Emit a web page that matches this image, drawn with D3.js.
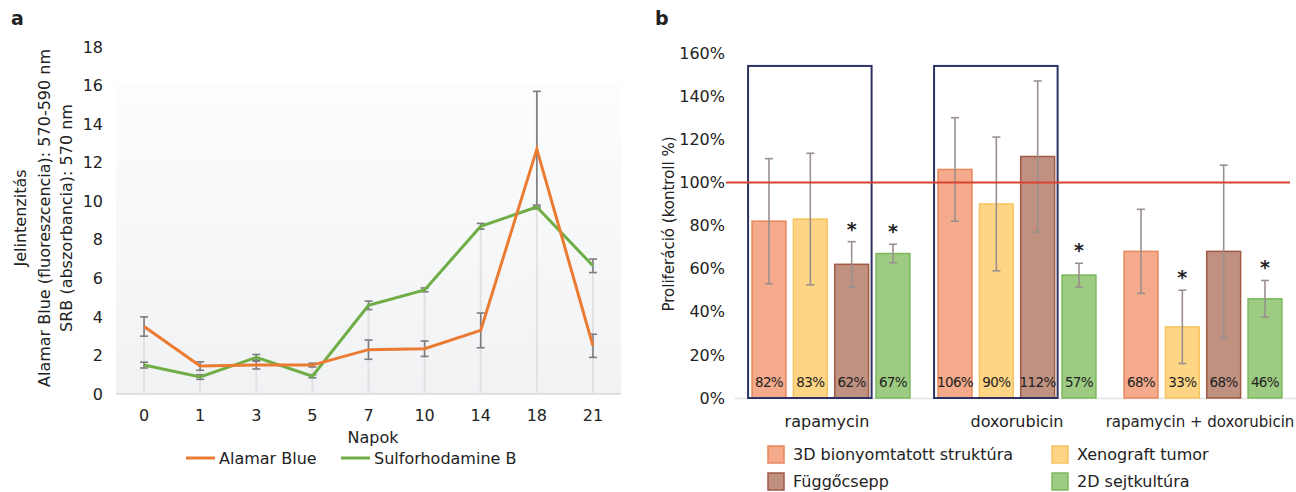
<!DOCTYPE html>
<html><head><meta charset="utf-8">
<script src="https://cdn.jsdelivr.net/npm/d3@7"></script>
<style>body{margin:0;background:#fff}text{font-family:"DejaVu Sans",sans-serif;fill:#222}</style>
</head><body><svg id="c" width="1296" height="492"></svg>
<script>
// ---- Panel a data ----
const days = ["0","1","3","5","7","10","14","18","21"];
const alamar = [3.5,1.45,1.5,1.5,2.3,2.35,3.3,12.7,2.5];
const alamarErr = [0.5,0.22,0.2,0.1,0.5,0.4,0.9,3.0,0.6];
const srb = [1.5,0.88,1.9,0.92,4.6,5.4,8.7,9.7,6.65];
const srbErr = [0.15,0.12,0.15,0.08,0.22,0.1,0.15,0.1,0.35];
const yTicksA = [0,2,4,6,8,10,12,14,16,18];
// ---- Panel b data ----
const treatments = ["rapamycin","doxorubicin","rapamycin + doxorubicin"];
const models = ["3D bionyomtatott struktúra","Xenograft tumor","Függőcsepp","2D sejtkultúra"];
const prolif = [[82,83,62,67],[106,90,112,57],[68,33,68,46]];
const prolifErr = [[29,30.5,10.5,4.3],[24,31,35,5.5],[19.5,17,40,8.5]];
const signif = [[false,false,true,true],[false,false,false,true],[false,true,false,true]];
const boxedGroups = ["rapamycin","doxorubicin"];
const yTicksB = [0,20,40,60,80,100,120,140,160];

const svg = d3.select("#c");

// ================= Panel a =================
const A = {l:116, r:621, t:47, b:394};
const xa = d3.scaleBand().domain(days).range([A.l,A.r]);
const ya = d3.scaleLinear().domain([0,18]).range([A.b,A.t]);
const ga = svg.append("g");
const defs = svg.append("defs");
const grad = defs.append("linearGradient").attr("id","bgA").attr("x1",0).attr("y1",0).attr("x2",0).attr("y2",1);
grad.append("stop").attr("offset","0%").attr("stop-color","#fcfdfd");
grad.append("stop").attr("offset","100%").attr("stop-color","#f0f2f4");
ga.append("rect").attr("x",A.l).attr("y",ya(16)-2).attr("width",A.r-A.l).attr("height",A.b-ya(16)+2).attr("fill","url(#bgA)");
ga.append("line").attr("x1",A.l).attr("x2",A.r).attr("y1",A.b).attr("y2",A.b).attr("stroke","#d8d8d8").attr("stroke-width",1.5);
// drop lines
days.forEach((d,i)=>{
  const top = Math.max(alamar[i]+alamarErr[i], srb[i]+srbErr[i]);
  ga.append("line").attr("x1",xa(d)+xa.bandwidth()/2).attr("x2",xa(d)+xa.bandwidth()/2)
    .attr("y1",ya(top)).attr("y2",A.b).attr("stroke","#e1e1e4").attr("stroke-width",2);
});
const yAxisA = d3.axisLeft(ya).tickValues(yTicksA).tickSize(0).tickPadding(0);
const gya = ga.append("g").attr("transform",`translate(${103},0)`).call(yAxisA);
gya.select(".domain").remove();
gya.selectAll("text").style("font-size","16px").attr("fill","#222");
const xAxisA = d3.axisBottom(xa).tickSize(0).tickPadding(0);
const gxa = ga.append("g").attr("transform",`translate(0,${A.b+16})`).call(xAxisA);
gxa.select(".domain").remove();
gxa.selectAll("text").style("font-size","16px").attr("fill","#222");

function errBars(g, vals, errs, col){
  days.forEach((d,i)=>{
    const cx = xa(d)+xa.bandwidth()/2;
    const y1 = ya(vals[i]+errs[i]), y2 = ya(vals[i]-errs[i]);
    g.append("line").attr("x1",cx).attr("x2",cx).attr("y1",y1).attr("y2",y2).attr("stroke",col).attr("stroke-width",1.6);
    [y1,y2].forEach(y=>g.append("line").attr("x1",cx-4).attr("x2",cx+4).attr("y1",y).attr("y2",y).attr("stroke",col).attr("stroke-width",1.6));
  });
}
errBars(ga, alamar, alamarErr, "#7d7d80");
errBars(ga, srb, srbErr, "#7d7d80");
const lineA = d3.line().x((v,i)=>xa(days[i])+xa.bandwidth()/2).y(v=>ya(v));
ga.append("path").datum(srb).attr("d",lineA).attr("fill","none").attr("stroke","#6fae45").attr("stroke-width",3);
ga.append("path").datum(alamar).attr("d",lineA).attr("fill","none").attr("stroke","#ec7b32").attr("stroke-width",3);

// axis titles a
const yt = ga.append("text").attr("transform","translate(0,218) rotate(-90)").attr("text-anchor","middle").style("font-size","16px");
yt.append("tspan").attr("x",0).attr("y",26).text("Jelintenzitás");
yt.append("tspan").attr("x",0).attr("y",50).text("Alamar Blue (fluoreszcencia): 570-590 nm");
yt.append("tspan").attr("x",0).attr("y",72).text("SRB (abszorbancia): 570 nm");
ga.append("text").attr("x",373).attr("y",443).attr("text-anchor","middle").style("font-size","16px").text("Napok");
// legend a
const legA = [["Alamar Blue","#ec7b32",186],["Sulforhodamine B","#6fae45",341]];
legA.forEach(([t,c,x])=>{
  ga.append("line").attr("x1",x).attr("x2",x+29).attr("y1",458).attr("y2",458).attr("stroke",c).attr("stroke-width",3);
  ga.append("text").attr("x",x+33).attr("y",464).style("font-size","16px").text(t);
});
ga.append("text").attr("x",11).attr("y",25).style("font-size","19px").style("font-weight","bold").text("a");

// ================= Panel b =================
const B = {l:738, r:1296, t:53, b:398};
const x0 = d3.scaleBand().domain(treatments).range([B.l,B.r]).paddingInner(0).paddingOuter(0);
const x1 = d3.scaleBand().domain(models).range([12,x0.bandwidth()-12]).paddingInner(0.18).paddingOuter(0.05);
const yb = d3.scaleLinear().domain([0,160]).range([B.b,B.t]);
const fills = ["#f4aa8b","#fdd585","#c09080","#9dcb82"];
const strokes = ["#e8865c","#f6c462","#a05a42","#7ab95c"];
const gb = svg.append("g");
const yAxisB = d3.axisLeft(yb).tickValues(yTicksB).tickFormat(d=>d+"%").tickSize(0).tickPadding(0);
const gyb = gb.append("g").attr("transform",`translate(725,0)`).call(yAxisB);
gyb.select(".domain").remove();
gyb.selectAll("text").style("font-size","16px").attr("fill","#222");
gb.append("line").attr("x1",735).attr("x2",B.r).attr("y1",B.b+0.5).attr("y2",B.b+0.5).attr("stroke","#e4e4e4").attr("stroke-width",1.5);

treatments.forEach((t,gi)=>{
  const g = gb.append("g").attr("transform",`translate(${x0(t)},0)`);
  models.forEach((m,mi)=>{
    const v = prolif[gi][mi];
    g.append("rect").attr("x",x1(m)).attr("y",yb(v)).attr("width",x1.bandwidth()).attr("height",yb(0)-yb(v))
      .attr("fill",fills[mi]).attr("stroke",strokes[mi]).attr("stroke-width",1.5);
  });
});
// boxes
boxedGroups.forEach(t=>{
  const xs = x0(t)+x1(models[0])-4, xe = x0(t)+x1(models[2])+x1.bandwidth()+3;
  gb.append("rect").attr("x",xs).attr("y",yb(154)).attr("width",xe-xs).attr("height",yb(0)-yb(154))
    .attr("fill","none").attr("stroke","#2e3262").attr("stroke-width",2);
});
treatments.forEach((t,gi)=>{
  models.forEach((m,mi)=>{
    const cx = x0(t)+x1(m)+x1.bandwidth()/2;
    const v = prolif[gi][mi], e = prolifErr[gi][mi];
    const y1 = yb(v+e), y2 = yb(v-e);
    gb.append("line").attr("x1",cx).attr("x2",cx).attr("y1",y1).attr("y2",y2).attr("stroke","#9a908d").attr("stroke-width",1.6);
    [y1,y2].forEach(y=>gb.append("line").attr("x1",cx-4).attr("x2",cx+4).attr("y1",y).attr("y2",y).attr("stroke","#9a908d").attr("stroke-width",1.6));
    if(signif[gi][mi]) gb.append("text").attr("x",cx).attr("y",y1-6).attr("text-anchor","middle").style("font-size","19px").style("font-weight","bold").text("*");
    gb.append("text").attr("x",cx).attr("y",yb(0)-11).attr("text-anchor","middle").style("font-size","13.5px").style("letter-spacing","-0.6px").attr("fill","#333").text(v+"%");
  });
});
// 100% line
gb.append("line").attr("x1",726).attr("x2",1290).attr("y1",yb(100)).attr("y2",yb(100)).attr("stroke","#d9432f").attr("stroke-width",2);
// x labels
const gxb = gb.append("g").attr("transform",`translate(0,${B.b})`).call(d3.axisBottom(x0).tickSize(0).tickPadding(0));
gxb.select(".domain").remove();
gxb.selectAll("text").attr("dy","0").attr("y",29).style("font-size",(d,i)=>i==2?"15px":"16px").attr("fill","#222").attr("dx",(d,i)=>i==0?"-4":i==2?"-3":"0");
gb.append("text").attr("transform","translate(674,224) rotate(-90)").attr("text-anchor","middle").style("font-size","15px").text("Proliferáció (kontroll %)");
gb.append("text").attr("x",655).attr("y",25).style("font-size","19px").style("font-weight","bold").text("b");
// legend b
const legPos = [[768,446],[1052,446],[768,473],[1052,473]];
models.forEach((m,i)=>{
  const [lx,ly] = legPos[i];
  gb.append("rect").attr("x",lx).attr("y",ly).attr("width",16).attr("height",17).attr("fill",fills[i]).attr("stroke",strokes[i]).attr("stroke-width",1.5);
  gb.append("text").attr("x",lx+25).attr("y",ly+14).style("font-size","16px").text(m);
});
</script></body></html>
